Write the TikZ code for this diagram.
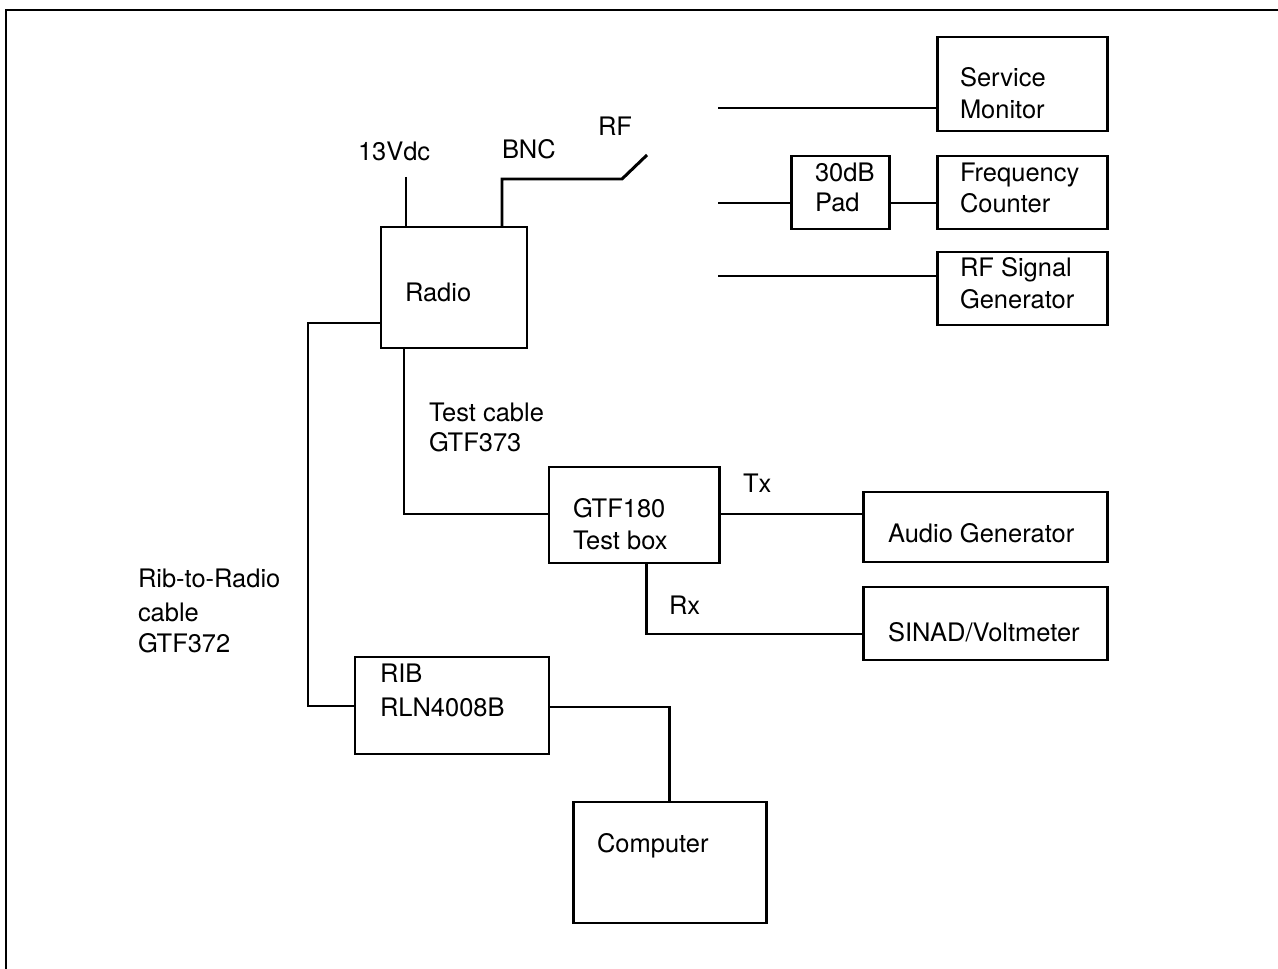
\documentclass[tikz,border=0pt]{standalone}
\usepackage{fontspec}
\setmainfont{TeX Gyre Heros}
\begin{document}
\begin{tikzpicture}[x=0.02cm,y=-0.02cm,line width=1.7pt,
  box/.style={draw,rectangle,inner sep=0pt,outer sep=0pt},
  lbl/.style={anchor=base west,inner sep=0pt,outer sep=0pt,font=\fontsize{14.5}{17}\selectfont}]
\useasboundingbox (0,0) rectangle (1278,969);
% frame (top and left edges)
\draw (6,969) -- (6,10) -- (1278,10);
% boxes
\newcommand{\pbox}[5]{\node[box,minimum width=#4*0.02cm,minimum height=#5*0.02cm] (#1) at (#2,#3) {};}
\pbox{radio}{454}{287.5}{146}{121}
\pbox{service}{1022}{84}{170}{94}
\pbox{pad}{840}{192.5}{98}{73}
\pbox{freq}{1022}{192.5}{170}{73}
\pbox{rfgen}{1022}{288.5}{170}{73}
\pbox{gtf}{634}{515}{170}{96}
\pbox{audio}{985}{527}{244}{70}
\pbox{sinad}{985}{623.5}{244}{73}
\pbox{rib}{452}{705.5}{194}{97}
\pbox{comp}{669.5}{862.5}{193}{121}
% texts
\node[lbl] (t13) at (358,161) {13Vdc};
\node[lbl] (tbnc) at (502,159) {BNC};
\node[lbl] (trf) at (598,136) {RF};
\node[lbl] (tradio) at (405,302) {Radio};
\node[lbl] (ts1) at (960,87) {Service};
\node[lbl] (ts2) at (960,119) {Monitor};
\node[lbl] (tp1) at (815,182) {30dB};
\node[lbl] (tp2) at (815,212) {Pad};
\node[lbl] (tf1) at (960,182) {Frequency};
\node[lbl] (tf2) at (960,213) {Counter};
\node[lbl] (tg1) at (960,277) {RF Signal};
\node[lbl] (tg2) at (960,309) {Generator};
\node[lbl] (tc1) at (429,421) {Test cable};
\node[lbl] (tc2) at (429,452) {GTF373};
\node[lbl] (tb1) at (573,517) {GTF180};
\node[lbl] (tb2) at (573,549) {Test box};
\node[lbl] (ttx) at (743,492) {Tx};
\node[lbl] (trx) at (669,614) {Rx};
\node[lbl] (tag) at (888,542) {Audio Generator};
\node[lbl] (tsv) at (888,641) {SINAD/Voltmeter};
\node[lbl] (tr1) at (138,587) {Rib-to-Radio};
\node[lbl] (tr2) at (138,621) {cable};
\node[lbl] (tr3) at (138,652) {GTF372};
\node[lbl] (tib1) at (380,682) {RIB};
\node[lbl] (tib2) at (380,716) {RLN4008B};
\node[lbl] (tcomp) at (597,852) {Computer};
% connector points
\coordinate (v13) at (406,177);
\coordinate (bnc) at (502,179);
\coordinate (rfa) at (622,179);
\coordinate (rfb) at (647,155);
\coordinate (sm) at (718,108);
\coordinate (pd) at (718,203);
\coordinate (rg) at (718,276);
\coordinate (cl1) at (308,323);
\coordinate (cl2) at (308,706);
\coordinate (tc) at (404,514);
\coordinate (rx) at (646,634);
\coordinate (rc) at (669,707);
% connectors
\draw (v13) -- (v13 |- radio.north);
\draw (bnc |- radio.north) -- (bnc) -- (rfa) -- (rfb);
\draw (sm) -- (sm -| service.west);
\draw (pd) -- (pd -| pad.west);
\draw (pad.east |- pd) -- (freq.west |- pd);
\draw (rg) -- (rg -| rfgen.west);
\draw (cl1 -| radio.west) -- (cl1) -- (cl2) -- (cl2 -| rib.west);
\draw (tc |- radio.south) -- (tc) -- (tc -| gtf.west);
\draw (gtf.east |- tc) -- (audio.west |- tc);
\draw (rx |- gtf.south) -- (rx) -- (rx -| sinad.west);
\draw (rc -| rib.east) -- (rc) -- (rc |- comp.north);
\end{tikzpicture}
\end{document}
